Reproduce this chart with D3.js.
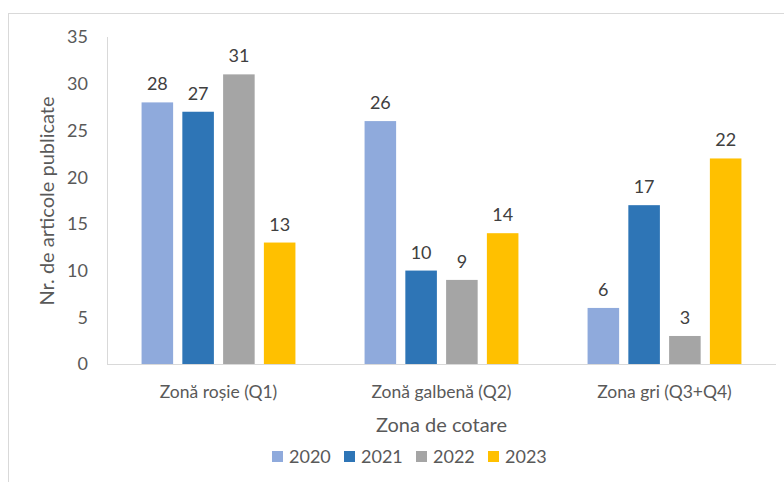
<!DOCTYPE html>
<html>
<head>
<meta charset="utf-8">
<script src="https://cdn.jsdelivr.net/npm/d3@7"></script>
<style>
body { margin: 0; background: #fff; }
text { font-family: Lato, "Open Sans", sans-serif; }
</style>
</head>
<body>
<svg id="chart" width="784" height="482"></svg>
<script>
// data
const zones = ["Zonă roșie (Q1)", "Zonă galbenă (Q2)", "Zona gri (Q3+Q4)"];
const years = ["2020", "2021", "2022", "2023"];
const colors = ["#8faadc", "#2e75b6", "#a5a5a5", "#ffc000"];
const v2020 = [28, 26, 6];
const v2021 = [27, 10, 17];
const v2022 = [31, 9, 3];
const v2023 = [13, 14, 22];
const yTicks = [0, 5, 10, 15, 20, 25, 30, 35];

const series = [v2020, v2021, v2022, v2023];

const svg = d3.select("#chart");

// chart frame
svg.append("rect")
  .attr("x", 8.5).attr("y", 13.5)
  .attr("width", 800).attr("height", 500)
  .attr("fill", "none").attr("stroke", "#d9d9d9");

const pLeft = 107, pRight = 776, pTop = 37, pBottom = 364;

const x0 = d3.scaleBand().domain(zones).range([pLeft, pRight])
  .paddingInner(0.31).paddingOuter(0.155);
const x1 = d3.scaleBand().domain(years).range([0, x0.bandwidth()])
  .paddingInner(0.226).paddingOuter(0);
const y = d3.scaleLinear().domain([0, 35]).range([pBottom, pTop]);

// y axis line
svg.append("line")
  .attr("x1", pLeft + 0.5).attr("x2", pLeft + 0.5)
  .attr("y1", pTop).attr("y2", pBottom)
  .attr("stroke", "#d9d9d9");

// y tick labels
svg.append("g").selectAll("text")
  .data(yTicks).join("text")
  .attr("x", 88).attr("y", d => y(d))
  .attr("dy", "0.36em")
  .attr("text-anchor", "end")
  .attr("font-size", 18)
  .attr("fill", "#595959")
  .text(d => d);

// bars
const groups = svg.append("g").selectAll("g")
  .data(zones).join("g")
  .attr("transform", d => `translate(${x0(d)},0)`);

groups.selectAll("rect")
  .data((z, i) => years.map((yr, k) => ({ yr, k, v: series[k][i] })))
  .join("rect")
  .attr("x", d => x1(d.yr))
  .attr("y", d => y(d.v))
  .attr("width", x1.bandwidth())
  .attr("height", d => y(0) - y(d.v))
  .attr("fill", d => colors[d.k]);

groups.selectAll("text")
  .data((z, i) => years.map((yr, k) => ({ yr, k, v: series[k][i] })))
  .join("text")
  .attr("x", d => x1(d.yr) + x1.bandwidth() / 2)
  .attr("y", d => y(d.v) - 12)
  .attr("text-anchor", "middle")
  .attr("font-size", 18)
  .attr("fill", "#404040")
  .text(d => d.v);

// x baseline
svg.append("line")
  .attr("x1", pLeft).attr("x2", pRight)
  .attr("y1", pBottom + 0.5).attr("y2", pBottom + 0.5)
  .attr("stroke", "#d9d9d9");

// category labels
svg.append("g").selectAll("text")
  .data(zones).join("text")
  .attr("x", d => x0(d) + x0.bandwidth() / 2)
  .attr("y", 398)
  .attr("text-anchor", "middle")
  .attr("font-size", 17.5)
  .attr("fill", "#595959")
  .text(d => d);

// axis titles
svg.append("text")
  .attr("x", (pLeft + pRight) / 2).attr("y", 432)
  .attr("text-anchor", "middle")
  .attr("font-size", 20)
  .attr("fill", "#595959")
  .text("Zona de cotare");

svg.append("text")
  .attr("transform", "translate(54,201) rotate(-90)")
  .attr("text-anchor", "middle")
  .attr("font-size", 20)
  .attr("fill", "#595959")
  .text("Nr. de articole publicate");

// legend
const legend = svg.append("g").selectAll("g")
  .data(years).join("g")
  .attr("transform", (d, i) => `translate(${272 + i * 72},451)`);
legend.append("rect")
  .attr("width", 11).attr("height", 11)
  .attr("fill", (d, i) => colors[i]);
legend.append("text")
  .attr("x", 17).attr("y", 12)
  .attr("font-size", 18)
  .attr("fill", "#595959")
  .text(d => d);
</script>
</body>
</html>
